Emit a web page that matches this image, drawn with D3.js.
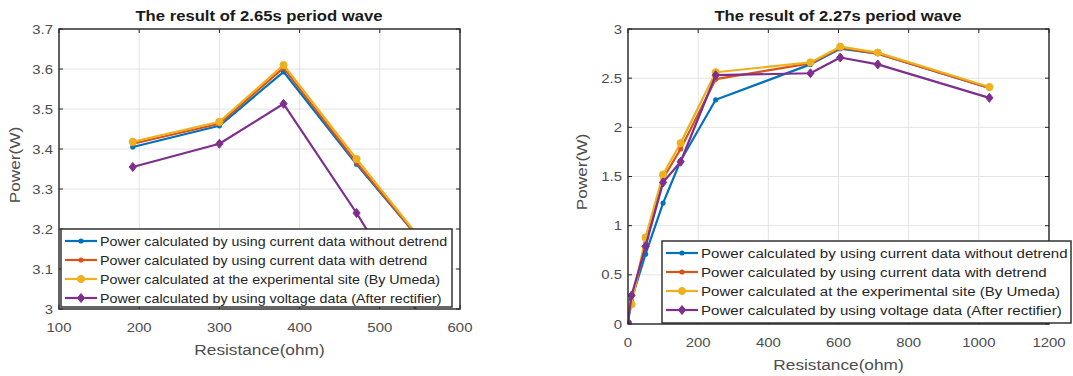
<!DOCTYPE html>
<html><head><meta charset="utf-8">
<script src="https://cdn.jsdelivr.net/npm/d3@7"></script>
<style>
html,body{margin:0;padding:0;background:#fff;}
svg{display:block;font-family:"Liberation Sans",Arial,sans-serif;}
</style></head>
<body><svg id="c" width="1073" height="376"></svg>
<script>
// ---- Data ----
const seriesNames = [
  "Power calculated by using current data without detrend",
  "Power calculated by using current data with detrend",
  "Power calculated at the experimental site (By Umeda)",
  "Power calculated by using voltage data (After rectifier)"
];
const seriesColors = ["#0072BD", "#D95319", "#EDB120", "#7E2F8E"];
const seriesMarkers = ["dot", "dot", "circle", "diamond"];

// Left chart: 2.65s period wave
const leftTitle = "The result of 2.65s period wave";
const leftResistance = [192, 300, 380, 471, 560];
const leftBlue   = [3.405, 3.458, 3.593, 3.362, 3.15];
const leftOrange = [3.413, 3.463, 3.603, 3.366, 3.15];
const leftYellow = [3.418, 3.468, 3.610, 3.375, 3.152];
const leftPurple = [3.355, 3.413, 3.513, 3.240, 2.95];
const leftXTicks = [100, 200, 300, 400, 500, 600];
const leftYTicks = [3, 3.1, 3.2, 3.3, 3.4, 3.5, 3.6, 3.7];

// Right chart: 2.27s period wave
const rightTitle = "The result of 2.27s period wave";
const rightResistance = [0, 10, 50, 100, 150, 250, 520, 605, 712, 1030];
const rightBlue   = [0.02, 0.25, 0.71, 1.23, 1.66, 2.28, 2.64, 2.80, 2.75, 2.40];
const rightOrange = [0.17, 0.22, 0.82, 1.48, 1.78, 2.49, 2.65, 2.81, 2.75, 2.40];
const rightYellow = [0.16, 0.20, 0.88, 1.52, 1.84, 2.56, 2.66, 2.82, 2.76, 2.41];
const rightPurple = [0.02, 0.29, 0.79, 1.44, 1.65, 2.53, 2.55, 2.71, 2.64, 2.30];
const rightXTicks = [0, 200, 400, 600, 800, 1000, 1200];
const rightYTicks = [0, 0.5, 1, 1.5, 2, 2.5, 3];

const SX = 1.15; // horizontal stretch of the reference's text
const svg = d3.select("#c");

function addText(sel, x, y, str, o) {
  const t = sel.append("text")
    .attr("transform", `translate(${x},${y}) ${o.rot ? "rotate(-90) scale(" + SX + ",1)" : "scale(" + SX + ",1)"}`)
    .attr("text-anchor", o.anchor || "start")
    .attr("font-size", o.fs).attr("fill", o.fill || "#4d4d4d")
    .text(str);
  if (o.bold) t.attr("font-weight", "bold");
  return t;
}

function drawChart(cfg) {
  const g = svg.append("g");
  const x = d3.scaleLinear().domain(cfg.xDomain).range([cfg.left, cfg.right]);
  const y = d3.scaleLinear().domain(cfg.yDomain).range([cfg.bottom, cfg.top]);
  const clipId = "clip" + cfg.id;
  svg.append("clipPath").attr("id", clipId).append("rect")
    .attr("x", cfg.left).attr("y", cfg.top)
    .attr("width", cfg.right - cfg.left).attr("height", cfg.bottom - cfg.top);

  // grid
  g.selectAll(".gx").data(cfg.xTicks).enter().append("line")
    .attr("x1", d => x(d)).attr("x2", d => x(d))
    .attr("y1", cfg.top).attr("y2", cfg.bottom)
    .attr("stroke", "#e3e3e3").attr("stroke-width", 1);
  g.selectAll(".gy").data(cfg.yTicks).enter().append("line")
    .attr("y1", d => y(d)).attr("y2", d => y(d))
    .attr("x1", cfg.left).attr("x2", cfg.right)
    .attr("stroke", "#e3e3e3").attr("stroke-width", 1);

  // series
  const plot = g.append("g").attr("clip-path", `url(#${clipId})`);
  cfg.series.forEach((vals, i) => {
    const pts = vals.map((v, j) => [cfg.xs[j], v]);
    plot.append("path").datum(pts)
      .attr("fill", "none").attr("stroke", seriesColors[i]).attr("stroke-width", 2.2)
      .attr("stroke-linejoin", "round")
      .attr("d", d3.line().x(d => x(d[0])).y(d => y(d[1])));
    pts.forEach(p => drawMarker(plot, seriesMarkers[i], x(p[0]), y(p[1]), seriesColors[i]));
  });

  // axes box & ticks
  const axCol = "#262626";
  const tl = 4;
  cfg.xTicks.forEach(t => {
    g.append("line").attr("x1", x(t)).attr("x2", x(t)).attr("y1", cfg.bottom).attr("y2", cfg.bottom - tl).attr("stroke", axCol);
    g.append("line").attr("x1", x(t)).attr("x2", x(t)).attr("y1", cfg.top).attr("y2", cfg.top + tl).attr("stroke", axCol);
    addText(g, x(t), cfg.bottom + 23, t, { anchor: "middle", fs: 13 });
  });
  cfg.yTicks.forEach(t => {
    g.append("line").attr("y1", y(t)).attr("y2", y(t)).attr("x1", cfg.left).attr("x2", cfg.left + tl).attr("stroke", axCol);
    g.append("line").attr("y1", y(t)).attr("y2", y(t)).attr("x1", cfg.right).attr("x2", cfg.right - tl).attr("stroke", axCol);
    addText(g, cfg.left - 6, y(t) + 4.5, t, { anchor: "end", fs: 13 });
  });
  g.append("rect").attr("x", cfg.left).attr("y", cfg.top)
    .attr("width", cfg.right - cfg.left).attr("height", cfg.bottom - cfg.top)
    .attr("fill", "none").attr("stroke", axCol).attr("stroke-width", 1.4);

  // title & labels
  addText(g, cfg.titleX, cfg.top - 8, cfg.title, { anchor: "middle", fs: 14.5, bold: true, fill: "#1a1a1a" });
  addText(g, (cfg.left + cfg.right) / 2, cfg.bottom + 46, "Resistance(ohm)", { anchor: "middle", fs: 15 });
  addText(g, cfg.ylabX, cfg.ylabY, "Power(W)", { anchor: "middle", fs: 15, rot: true });

  // legend
  const L = cfg.legend;
  const lg = g.append("g");
  lg.append("rect").attr("x", L.x).attr("y", L.y).attr("width", L.w).attr("height", L.h)
    .attr("fill", "#fff").attr("stroke", axCol).attr("stroke-width", 1.4);
  seriesNames.forEach((name, i) => {
    const yy = L.y + L.row0 + i * L.rowH;
    lg.append("line").attr("x1", L.x + 4).attr("x2", L.x + 36).attr("y1", yy).attr("y2", yy)
      .attr("stroke", seriesColors[i]).attr("stroke-width", 2.2);
    drawMarker(lg, seriesMarkers[i], L.x + 20, yy, seriesColors[i]);
    addText(lg, L.x + 39, yy + 4.5, name, { fs: L.fs, fill: "#262626" });
  });
}

function drawMarker(sel, type, cx, cy, col) {
  if (type === "dot") {
    sel.append("circle").attr("cx", cx).attr("cy", cy).attr("r", 2.6).attr("fill", col);
  } else if (type === "circle") {
    sel.append("circle").attr("cx", cx).attr("cy", cy).attr("r", 3.6).attr("fill", col).attr("stroke", col);
  } else {
    const s = 4.5;
    sel.append("path").attr("d", `M${cx},${cy - s}L${cx + s * 0.8},${cy}L${cx},${cy + s}L${cx - s * 0.8},${cy}Z`)
      .attr("fill", col).attr("stroke", col).attr("stroke-width", 1);
  }
}

drawChart({
  id: "L", title: leftTitle, titleX: 259,
  left: 59, right: 460, top: 29, bottom: 309,
  xDomain: [100, 600], yDomain: [3, 3.7],
  xTicks: leftXTicks, yTicks: leftYTicks,
  xs: leftResistance, series: [leftBlue, leftOrange, leftYellow, leftPurple],
  ylabX: 20, ylabY: 165,
  legend: { x: 61, y: 229, w: 391, h: 78, row0: 12, rowH: 19, fs: 12.4 }
});

drawChart({
  id: "R", title: rightTitle, titleX: 838,
  left: 628, right: 1049, top: 29, bottom: 324,
  xDomain: [0, 1200], yDomain: [0, 3],
  xTicks: rightXTicks, yTicks: rightYTicks,
  xs: rightResistance, series: [rightBlue, rightOrange, rightYellow, rightPurple],
  ylabX: 587, ylabY: 172,
  legend: { x: 662, y: 241, w: 409, h: 82, row0: 12, rowH: 19, fs: 13.1 }
});
</script>
</body></html>
